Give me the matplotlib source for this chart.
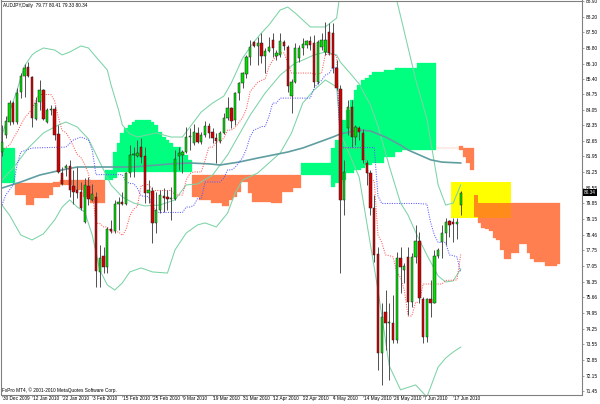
import matplotlib
matplotlib.use("Agg")
import matplotlib.pyplot as plt
from matplotlib.patches import Rectangle
import numpy as np

plt.rcParams['font.family'] = ['Liberation Sans', 'DejaVu Sans']

header_text = "AUDJPY,Daily  79.77 80.41 79.33 80.34"
copyright_text = "FxPro MT4, \u00a9 2001-2010 MetaQuotes Software Corp."

# ---------------- OHLC (daily bars, 30 Dec 2009 .. 21 Jun 2010) ----------------
opens = [82.15, 82.91, 83.49, 84.34, 83.49, 84.83, 85.55, 85.95, 85.50, 83.63,
         84.39, 84.92, 83.49, 84.03, 84.07, 82.96, 81.21, 81.44, 81.52, 80.63,
         80.45, 80.36, 79.02, 80.63, 80.01, 80.14, 76.79, 77.50, 77.01, 78.71,
         78.62, 79.83, 79.92, 79.83, 81.21, 82.02, 81.97, 82.37, 81.97, 80.32,
         80.41, 78.98, 79.56, 80.19, 80.14, 80.05, 80.05, 81.97, 82.02, 82.15,
         82.82, 82.55, 83.00, 82.60, 82.91, 83.31, 83.04, 82.78, 82.64, 83.00,
         83.67, 84.12, 83.58, 84.79, 85.24, 85.64, 86.40, 87.07, 86.89, 87.02,
         86.44, 86.67, 87.16, 86.44, 86.49, 87.07, 86.84, 84.65, 85.28, 86.35,
         86.80, 86.93, 87.11, 87.02, 85.28, 86.84, 86.62, 87.52, 87.47, 85.91,
         84.97, 80.01, 83.22, 84.16, 82.82, 83.22, 83.00, 81.66, 81.21, 79.65,
         77.59, 73.17, 75.00, 74.51, 74.51, 73.75, 77.41, 76.88, 77.46, 75.45,
         77.46, 78.17, 75.60, 73.88, 75.58, 75.40, 77.50, 78.13, 78.53, 79.07,
         79.02, 78.94, 79.77]
highs = [83.36, 83.76, 84.48, 84.43, 85.01, 85.68, 86.08, 86.17, 85.55, 84.61,
         85.37, 84.97, 84.12, 84.25, 84.21, 83.36, 81.48, 81.61, 81.80, 81.35,
         81.48, 80.81, 80.99, 81.03, 80.72, 80.36, 77.99, 77.90, 78.80, 79.11,
         80.01, 80.14, 80.36, 81.26, 82.46, 82.37, 82.69, 82.78, 82.37, 80.90,
         80.59, 80.36, 80.45, 80.54, 80.45, 80.59, 82.24, 82.37, 82.24, 83.27,
         83.22, 83.40, 83.27, 83.04, 83.54, 83.45, 83.22, 83.00, 83.09, 83.89,
         84.61, 84.16, 84.83, 85.28, 85.73, 86.49, 87.16, 87.11, 87.29, 87.47,
         86.80, 87.29, 87.47, 86.71, 87.47, 87.16, 86.93, 85.41, 87.02, 86.93,
         87.25, 87.16, 87.34, 87.38, 87.16, 87.47, 87.96, 87.92, 87.92, 86.26,
         85.15, 81.80, 84.48, 84.48, 83.36, 83.31, 83.18, 81.80, 81.35, 80.23,
         77.90, 75.40, 75.98, 75.40, 75.76, 77.68, 77.90, 77.19, 77.90, 77.64,
         78.89, 78.57, 75.65, 75.63, 76.43, 77.77, 77.86, 78.89, 79.20, 79.11,
         79.20, 79.20, 80.41]
lows = [81.97, 82.78, 83.36, 83.40, 83.40, 84.56, 84.61, 85.50, 83.27, 83.58,
        84.03, 83.58, 83.45, 83.80, 82.69, 81.21, 80.67, 81.08, 80.14, 79.83,
        80.10, 79.56, 78.98, 79.78, 79.96, 76.12, 76.12, 76.74, 76.74, 78.53,
        78.53, 78.67, 79.78, 79.78, 81.03, 81.03, 81.93, 81.66, 79.87, 79.87,
        78.08, 78.53, 79.42, 79.47, 79.56, 79.11, 80.01, 81.35, 81.21, 82.11,
        82.24, 82.46, 82.55, 82.51, 82.82, 82.78, 82.55, 81.66, 82.55, 82.96,
        83.58, 83.22, 83.36, 84.48, 85.01, 85.46, 86.04, 86.84, 86.04, 86.13,
        85.68, 86.62, 86.40, 86.26, 86.40, 86.71, 84.83, 83.89, 85.24, 86.17,
        86.49, 86.80, 86.71, 85.06, 85.19, 86.71, 86.49, 86.49, 85.68, 84.92,
        76.74, 79.33, 82.91, 82.37, 82.46, 82.69, 81.66, 80.67, 79.33, 77.23,
        72.41, 71.74, 73.30, 71.96, 73.61, 73.61, 75.85, 76.30, 74.87, 75.22,
        77.19, 75.40, 73.61, 73.66, 74.78, 75.40, 77.41, 77.41, 77.99, 78.35,
        78.13, 78.26, 79.33]
closes = [82.60, 83.54, 84.34, 83.49, 84.79, 85.55, 85.91, 85.55, 83.67, 84.34,
          84.92, 83.63, 84.03, 84.07, 82.91, 81.26, 80.72, 81.52, 80.45, 80.36,
          80.32, 79.65, 80.68, 80.05, 80.27, 76.83, 77.41, 77.01, 78.71, 78.62,
          79.83, 79.92, 79.83, 81.21, 82.02, 82.06, 82.11, 81.93, 80.32, 80.45,
          78.98, 79.56, 80.23, 80.10, 80.05, 80.10, 81.84, 82.11, 82.15, 82.82,
          82.87, 83.04, 82.60, 82.91, 83.31, 83.00, 82.78, 82.64, 83.00, 83.67,
          84.12, 83.54, 84.79, 85.24, 85.68, 86.40, 86.84, 86.89, 87.02, 86.44,
          86.67, 86.84, 86.80, 86.58, 87.11, 86.89, 85.10, 85.28, 86.80, 86.80,
          86.98, 87.11, 86.93, 85.28, 87.07, 87.16, 87.16, 86.58, 85.91, 85.01,
          80.01, 81.26, 84.16, 82.82, 83.27, 83.04, 81.80, 81.21, 79.65, 77.55,
          73.17, 74.78, 74.51, 74.55, 73.75, 77.41, 77.01, 77.06, 75.45, 77.46,
          78.17, 75.63, 73.88, 75.58, 75.40, 77.50, 77.77, 78.53, 79.02, 78.89,
          78.94, 79.02, 80.34]

# ---------------- Bollinger bands (bar index, price) ----------------
bb_upper_bars = [0, 2, 4, 6, 8, 9, 11, 14, 16, 18, 21, 23, 25, 28, 29, 31, 32, 34, 36, 41,
                 45, 48, 50, 53, 56, 59, 61, 64, 67, 69, 71, 74, 76, 78, 82, 86, 89, 90, 95,
                 100, 103, 106, 110, 113, 116, 118, 120, 122]
bb_upper = [82.91, 83.94, 84.92, 86.00, 86.49, 86.62, 86.80, 86.71, 86.49, 86.62, 86.89,
            86.80, 86.40, 85.82, 85.15, 84.03, 83.36, 82.96, 82.82, 83.00, 82.82, 82.82,
            83.27, 83.94, 84.34, 84.65, 85.24, 86.35, 87.07, 87.47, 87.83, 88.50, 88.63,
            88.36, 87.74, 87.74, 88.14, 89.35, 89.35, 90.64, 90.29, 88.23, 85.41, 83.63,
            80.68, 79.78, 79.87, 80.68]
bb_mid_bars = [0, 3, 7, 11, 15, 17, 20, 23, 26, 29, 32, 35, 38, 42, 46, 49, 52, 56, 60, 63,
               66, 70, 74, 78, 80, 83, 86, 89, 90, 93, 95, 98, 100, 103, 106, 108, 110, 113,
               116, 118, 120, 122]
bb_mid = [80.90, 81.44, 82.33, 83.00, 83.36, 83.49, 83.27, 82.73, 81.70, 80.68, 80.14,
          79.87, 79.74, 79.78, 80.01, 80.68, 80.72, 81.12, 82.02, 82.91, 83.80, 84.79,
          85.59, 86.13, 86.26, 86.49, 86.62, 86.49, 86.17, 85.59, 85.19, 84.25, 83.31,
          81.52, 79.87, 79.33, 78.57, 77.55, 76.61, 76.34, 76.39, 76.92]
bb_lower_bars = [0, 2, 5, 8, 11, 14, 16, 18, 20, 22, 24, 26, 28, 30, 32, 34, 37, 40, 44, 46,
                 49, 52, 54, 57, 60, 62, 64, 68, 71, 74, 77, 80, 83, 86, 89, 90, 95, 100, 103,
                 106, 110, 113, 116, 118, 120, 122]
bb_lower = [79.78, 79.33, 78.44, 78.22, 78.49, 79.11, 79.69, 80.01, 79.69, 79.47, 78.44,
            76.88, 76.21, 75.98, 76.30, 76.79, 76.97, 76.79, 76.74, 77.77, 78.53, 78.89,
            78.98, 78.80, 79.42, 80.32, 80.90, 81.21, 81.66, 82.11, 83.00, 84.34, 84.92,
            85.37, 85.06, 83.00, 81.03, 75.98, 72.59, 71.52, 71.74, 71.20, 72.54, 72.94,
            73.21, 73.43]

# ---------------- long moving average ----------------
ma_bars = [0, 5, 10, 16, 20, 35, 45, 50, 55, 58, 63, 68, 76, 80, 88, 90, 95, 98, 102, 106,
           108, 114, 117, 122]
ma_vals = [80.54, 80.81, 81.12, 81.35, 81.48, 81.48, 81.62, 81.66, 81.62, 81.57, 81.70,
           81.88, 82.15, 82.33, 82.82, 82.96, 83.13, 83.09, 82.82, 82.46, 82.24, 81.80,
           81.70, 81.66]

# ---------------- Ichimoku lines ----------------
tenkan_bars = [0, 2, 4, 6, 8, 9, 10, 13, 14, 15, 16, 17, 18, 19, 20, 21, 22, 23, 24, 25,
               26, 27, 28, 29, 31, 32, 33, 34, 35, 36, 37, 38, 39, 40, 45, 46, 48, 49, 50, 51,
               53, 54, 55, 56, 57, 58, 59, 60, 61, 62, 63, 64, 65, 66, 67, 68, 69, 70, 71, 72,
               73, 74, 75, 76, 77, 82, 83, 84, 85, 86, 88, 89, 90, 96, 97, 98, 99, 100, 101,
               102, 103, 104, 105, 106, 107, 108, 109, 110, 111, 112, 117, 118, 121, 122]
tenkan = [82.24, 82.46, 83.04, 83.67, 84.07, 84.48, 84.72, 84.72, 84.43, 83.69, 83.11,
          83.02, 82.75, 82.40, 82.04, 81.90, 81.59, 81.17, 80.39, 78.96, 78.96, 78.80,
          78.80, 78.58, 78.58, 78.42, 78.69, 79.29, 79.60, 79.72, 80.65, 80.65, 80.72,
          80.43, 80.43, 80.23, 80.23, 80.90, 81.19, 81.26, 81.26, 81.77, 82.37, 82.37,
          82.60, 82.60, 82.78, 83.13, 83.13, 83.25, 83.47, 83.69, 84.07, 84.86, 85.06,
          85.26, 85.35, 85.41, 85.97, 86.24, 86.46, 86.58, 86.58, 86.15, 85.68, 85.68,
          85.64, 85.64, 85.68, 86.51, 86.51, 86.44, 82.33, 82.33, 81.50, 80.94, 80.85,
          78.44, 78.11, 77.55, 77.52, 77.46, 76.77, 76.54, 75.98, 74.82, 74.82, 75.43,
          75.43, 76.25, 76.25, 76.41, 76.43, 77.57]
kijun_bars = [0, 1, 3, 4, 5, 8, 17, 19, 21, 23, 24, 25, 32, 33, 34, 35, 36, 37, 39, 40,
              41, 48, 49, 50, 51, 52, 53, 54, 58, 59, 60, 61, 62, 63, 64, 65, 66, 67, 68, 69,
              70, 71, 72, 73, 74, 82, 83, 84, 85, 86, 87, 88, 89, 90, 99, 100, 101, 111, 112,
              113, 114, 115, 116, 118, 119, 120, 121, 122]
kijun = [79.78, 80.23, 80.68, 81.57, 82.15, 82.33, 82.37, 82.69, 82.82, 82.69, 82.24,
         81.14, 81.14, 80.83, 80.74, 80.74, 80.54, 80.19, 80.16, 79.74, 79.45, 79.45,
         79.69, 79.69, 79.76, 80.07, 80.07, 80.81, 80.81, 80.99, 81.35, 81.35, 81.46,
         81.68, 81.90, 82.28, 82.84, 83.13, 83.20, 83.29, 83.29, 83.74, 84.34, 84.34,
         84.56, 84.56, 85.01, 85.21, 85.35, 85.59, 85.66, 85.93, 85.93, 82.35, 82.35,
         80.18, 79.85, 79.85, 79.83, 79.83, 79.00, 78.44, 78.11, 78.11, 77.55, 77.52,
         77.46, 76.77]

# Senkou spans, one value per bar (cloud runs 26 bars past the last candle)
span_a = [82.33, 82.33, 82.33, 82.33, 80.23, 80.23, 80.23, 79.78, 79.78, 80.10,
          80.10, 80.10, 80.10, 80.23, 80.59, 80.59, 80.68, 80.68, 80.68, 80.45,
          80.45, 80.45, 80.14, 80.14, 79.87, 79.87, 79.87, 79.87, 81.35, 81.35,
          82.15, 82.55, 83.00, 83.22, 83.36, 83.49, 83.58, 83.58, 83.58, 83.58,
          83.49, 83.36, 83.04, 82.82, 82.69, 82.55, 82.37, 82.37, 82.15, 82.02,
          81.80, 80.14, 80.14, 80.01, 80.01, 80.01, 79.87, 79.87, 79.87, 79.74,
          79.74, 80.01, 80.14, 80.36, 80.81, 80.81, 80.32, 79.92, 79.92, 79.92,
          79.92, 79.92, 79.87, 79.87, 79.87, 80.36, 80.36, 80.36, 80.54, 80.54,
          81.66, 81.66, 81.66, 81.66, 81.66, 81.66, 81.66, 81.66, 82.33, 82.69,
          83.22, 83.58, 84.03, 84.48, 84.92, 85.15, 85.37, 85.46, 85.59, 85.73,
          85.73, 85.73, 85.82, 85.82, 85.82, 85.91, 85.91, 85.91, 85.91, 85.91,
          85.91, 86.13, 86.13, 86.13, 86.13, 86.13, 82.35, 82.35, 82.35, 82.35,
          82.35, 82.35, 82.24, 81.93, 81.66, 81.35, 79.24, 78.98, 78.75, 78.71,
          78.62, 78.31, 78.22, 77.77, 77.37, 77.37, 77.64, 77.64, 78.04, 78.04,
          77.64, 77.37, 77.23, 77.23, 77.23, 77.06, 77.06, 77.06, 77.15]
span_b = [80.77, 80.77, 80.77, 80.77, 80.77, 80.77, 80.77, 80.77, 80.77, 80.77,
          80.77, 80.77, 80.77, 80.77, 80.81, 80.81, 80.90, 80.90, 80.90, 80.90,
          80.90, 80.90, 80.90, 80.90, 80.90, 80.90, 80.90, 80.90, 80.90, 80.90,
          80.99, 81.26, 81.26, 81.26, 81.26, 81.26, 81.26, 81.26, 81.26, 81.26,
          81.26, 81.26, 81.26, 81.26, 81.26, 81.26, 81.26, 81.26, 81.26, 81.26,
          81.26, 81.12, 81.12, 81.12, 81.12, 81.12, 81.12, 81.12, 81.12, 81.12,
          81.12, 81.12, 81.12, 81.12, 81.12, 81.12, 81.12, 81.12, 81.12, 81.12,
          81.12, 81.12, 81.12, 81.12, 81.12, 81.12, 81.12, 81.12, 81.12, 81.12,
          81.12, 81.12, 81.12, 81.12, 81.12, 81.12, 81.12, 81.12, 80.59, 80.77,
          80.77, 80.90, 81.21, 81.21, 81.35, 81.35, 81.44, 81.57, 81.57, 81.66,
          81.66, 81.66, 81.93, 81.93, 81.93, 82.15, 82.15, 82.24, 82.24, 82.24,
          82.24, 82.24, 82.24, 82.24, 82.24, 82.24, 82.35, 82.35, 82.35, 82.35,
          82.35, 82.35, 82.42, 82.35, 82.35, 82.35, 80.23, 79.87, 79.87, 79.87,
          79.87, 79.87, 79.87, 79.87, 79.87, 79.87, 79.87, 79.87, 79.87, 79.87,
          79.87, 79.87, 79.87, 79.87, 79.87, 79.87, 79.87, 79.87, 79.87]

# highlight box drawn on the chart (bar index range, price range)
box_start, box_end = 119.5, 135.5
box_low, box_high = 79.21, 80.82

# ---------------- axes labels ----------------
date_labels = ["30 Dec 2009", "12 Jan 2010", "22 Jan 2010", "3 Feb 2010", "15 Feb 2010",
               "25 Feb 2010", "9 Mar 2010", "19 Mar 2010", "31 Mar 2010", "12 Apr 2010",
               "22 Apr 2010", "4 May 2010", "14 May 2010", "26 May 2010", "7 Jun 2010",
               "17 Jun 2010"]
date_label_bars = [0, 8, 16, 24, 32, 40, 48, 56, 64, 72, 80, 88, 96, 104, 112, 120]
price_tick_labels = ["88.90", "88.20", "87.50", "86.80", "86.10", "85.40", "84.75", "84.05",
                     "83.35", "82.65", "81.95", "81.25", "80.55", "79.85", "79.15", "78.46",
                     "77.75", "77.05", "76.35", "75.66", "74.95", "74.25", "73.55", "72.85",
                     "72.15", "71.45"]
last_price = 80.34

# ---------------- figure ----------------
FS = 3.4
fig = plt.figure(figsize=(6.0, 4.04), dpi=100)
fig.patch.set_facecolor('white')
ax = fig.add_axes([1 / 600, 9.5 / 404, 581 / 600, 394 / 404])
ax.set_facecolor('white')
ax.set_xlim(-0.266, 154.26)
ax.set_ylim(71.311, 88.923)

# cloud
a = np.array(span_a)
b = np.array(span_b)
cx = np.arange(len(a))
top = np.maximum(a, b)
bot = np.minimum(a, b)
cloud_cols = np.where(a > b, '#00FF7F', '#FF7F50')
ax.bar(cx, top - bot, bottom=bot, width=1.0, color=cloud_cols, edgecolor=cloud_cols,
       linewidth=0.2, zorder=1)

rect = Rectangle((box_start, box_low), box_end - box_start, box_high - box_low,
                 facecolor='#FFFF00', edgecolor='none', zorder=1.5)
ax.add_patch(rect)
over = ax.bar(cx, top - bot, bottom=bot, width=1.0, color='#FF8C1A', linewidth=0, zorder=1.6)
for p in over.patches:
    p.set_clip_path(rect)

# Bollinger bands
bb_col = '#7CD3A6'
ax.plot(bb_upper_bars, bb_upper, color=bb_col, lw=0.75, zorder=2)
ax.plot(bb_mid_bars, bb_mid, color=bb_col, lw=0.75, zorder=2)
ax.plot(bb_lower_bars, bb_lower, color=bb_col, lw=0.75, zorder=2)

# moving average
ax.plot(ma_bars, ma_vals, color='#5F9EA0', lw=1.2, zorder=2.2)

# Ichimoku tenkan / kijun
ax.plot(tenkan_bars, tenkan, color='#FF5A5A', lw=0.75, ls=(0, (1, 1.3)), zorder=2.4)
ax.plot(kijun_bars, kijun, color='#5A5AFF', lw=0.75, ls=(0, (1, 1.3)), zorder=2.4)

# candles
o = np.array(opens); h = np.array(highs); l = np.array(lows); c = np.array(closes)
x = np.arange(len(o))
ax.vlines(x, l, h, color='#505050', lw=0.7, zorder=3)
body_bot = np.minimum(o, c)
body_h = np.maximum(np.abs(c - o), 0.02)
body_cols = np.where(c >= o, '#00DD00', '#D40000')
ax.bar(x, body_h, bottom=body_bot, width=0.62, color=body_cols, edgecolor='#222222',
       linewidth=0.35, zorder=3.1)

# spines / ticks
for s in ax.spines.values():
    s.set_color('#808080')
    s.set_linewidth(0.8)

ax.yaxis.tick_right()
ax.set_yticks([float(t) for t in price_tick_labels])
ax.set_yticklabels(price_tick_labels)
ax.tick_params(axis='y', length=1.6, width=0.5, pad=1.0, labelsize=FS,
               color='#808080', labelcolor='black')
ax.set_xticks(date_label_bars)
ax.tick_params(axis='x', length=1.5, width=0.5, color='#808080', labelbottom=False)

for bb, lab in zip(date_label_bars, date_labels):
    ax.annotate(lab, xy=(bb, 0), xycoords=('data', 'axes fraction'), xytext=(0.4, -1.3),
                textcoords='offset points', ha='left', va='top', fontsize=FS,
                annotation_clip=False)

ax.annotate(header_text, xy=(0, 1), xycoords='axes fraction', xytext=(1.4, -1.6),
            textcoords='offset points', ha='left', va='top', fontsize=FS)
ax.annotate(copyright_text, xy=(0, 0), xycoords='axes fraction', xytext=(1.0, 0.9),
            textcoords='offset points', ha='left', va='bottom', fontsize=FS)

ax.annotate(f"{last_price:.2f}", xy=(1.0, last_price), xycoords=('axes fraction', 'data'),
            xytext=(1.6, 0), textcoords='offset points', ha='left', va='center',
            fontsize=FS, color='white', annotation_clip=False,
            bbox=dict(boxstyle='square,pad=0.25', fc='black', ec='black', lw=0))

fig.savefig('out.png', dpi=100, facecolor='white')
